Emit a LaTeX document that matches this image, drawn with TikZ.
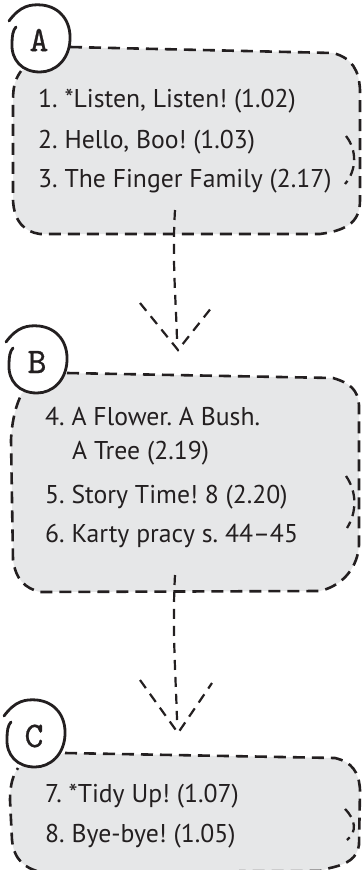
\documentclass[tikz,border=0pt]{standalone}
\usepackage{fontspec}
\setmainfont{PT Sans}
\newfontfamily\letterfont[FakeBold=0.7]{lmmono10-regular.otf}
\definecolor{boxfill}{HTML}{E6E7E8}
\definecolor{ink}{HTML}{231F20}
\begin{document}
\frenchspacing
\begin{tikzpicture}[x=1pt,y=-1pt,
  boxline/.style={draw=ink,line width=2.6pt,dash pattern=on 12pt off 7pt,fill=boxfill},
  bracketline/.style={draw=ink,line width=2.3pt,dash pattern=on 10pt off 6pt},
  arrowline/.style={draw=ink,line width=2.2pt,dash pattern=on 10pt off 7pt},
  ringline/.style={draw=ink,line width=2.8pt,fill=white,line cap=round},
  item/.style={anchor=base west,inner sep=0pt,text=ink,font=\fontsize{25.7}{30}\selectfont},
  letter/.style={inner sep=0pt,text=ink,font=\letterfont\fontsize{36}{36}\selectfont}]
\useasboundingbox (0,0) rectangle (362,870);
% ---------- Box A ----------
\path[boxline] (70,47) -- (333,53) .. controls (352,58) and (359,70) .. (360,90)
  -- (360,200) .. controls (360,220) and (350,230) .. (320,234) -- (40,234)
  .. controls (25,232) and (14,222) .. (13,200) -- (13,100) .. controls (13,85) and (16,78) .. (21,71);
\draw[bracketline] (346,136) .. controls (357,150) and (357,170) .. (345,184);
\begin{scope}[shift={(40,38)}]
\draw[ringline] (-31,-17) .. controls (-20,-32) and (-10,-34) .. (2,-33) .. controls (20,-31) and (31,-17) .. (30,2)
  .. controls (29,22) and (15,34) .. (0,34) .. controls (-18,34) and (-29,22) .. (-28,5) .. controls (-28,-2) and (-27,-8) .. (-24,-11);
\end{scope}
\node[letter] (la) at (39,40) {A};
\node[item] (a1) at (38,107) {1. *Listen, Listen! (1.02)};
\node[item] (a2) at (38,148) {2. Hello, Boo! (1.03)};
\node[item] (a3) at (38,187) {3. The Finger Family (2.17)};
% ---------- Box B ----------
\path[boxline] (67,373) -- (333,378) .. controls (350,383) and (358,390) .. (359,405)
  -- (359,545) .. controls (358,565) and (345,585) .. (320,591) -- (40,592)
  .. controls (25,588) and (16,580) .. (13,560) -- (11,440) .. controls (12,420) and (16,405) .. (22,393);
\draw[bracketline] (346,476) .. controls (357,492) and (357,512) .. (347,528);
\begin{scope}[shift={(37,359)}]
\draw[ringline] (-31,-17) .. controls (-20,-32) and (-10,-34) .. (2,-33) .. controls (20,-31) and (31,-17) .. (30,2)
  .. controls (29,22) and (15,34) .. (0,34) .. controls (-18,34) and (-29,22) .. (-28,5) .. controls (-28,-2) and (-27,-8) .. (-24,-11);
\end{scope}
\node[letter] (lb) at (37,362) {B};
\node[item] (b1) at (45,425) {4. A Flower. A Bush.};
\node[item] (b2) at (72,459) {A Tree (2.19)};
\node[item] (b3) at (45,503) {5. Story Time! 8 (2.20)};
\node[item] (b4) at (45,542) {6. Karty pracy s. 44--45};
% ---------- Box C ----------
\path[boxline] (65,753) -- (335,758) .. controls (352,762) and (359,772) .. (360,790)
  -- (359,845) .. controls (357,858) and (348,864) .. (330,868) -- (320,871) -- (40,872)
  .. controls (25,868) and (14,860) .. (12,840) -- (10,800) .. controls (10,785) and (13,775) .. (18,768);
\draw[bracketline] (345,809) .. controls (356,820) and (357,832) .. (347,840);
\begin{scope}[shift={(35,733)}]
\draw[ringline] (-31,-17) .. controls (-20,-32) and (-10,-34) .. (2,-33) .. controls (20,-31) and (31,-17) .. (30,2)
  .. controls (29,22) and (15,34) .. (0,34) .. controls (-18,34) and (-29,22) .. (-28,5) .. controls (-28,-2) and (-27,-8) .. (-24,-11);
\end{scope}
\node[letter] (lc) at (34,736) {C};
\node[item] (c1) at (45,802) {7. *Tidy Up! (1.07)};
\node[item] (c2) at (45,842) {8. Bye-bye! (1.05)};
% ---------- Connectors ----------
\coordinate (abot) at (175,210);
\coordinate (btip) at (178,350);
\coordinate (bl) at (140,303);
\coordinate (br) at (212,307);
\draw[arrowline] (abot) .. controls (172,260) and (176,300) .. (177,340);
\draw[arrowline] (bl) -- (btip) -- (br);
\coordinate (bbot) at (175,575);
\coordinate (ctip) at (178,733);
\coordinate (cl) at (140,680);
\coordinate (cr) at (212,683);
\draw[arrowline] (bbot) .. controls (172,630) and (176,680) .. (177,720);
\draw[arrowline] (cl) -- (ctip) -- (cr);
\end{tikzpicture}
\end{document}
